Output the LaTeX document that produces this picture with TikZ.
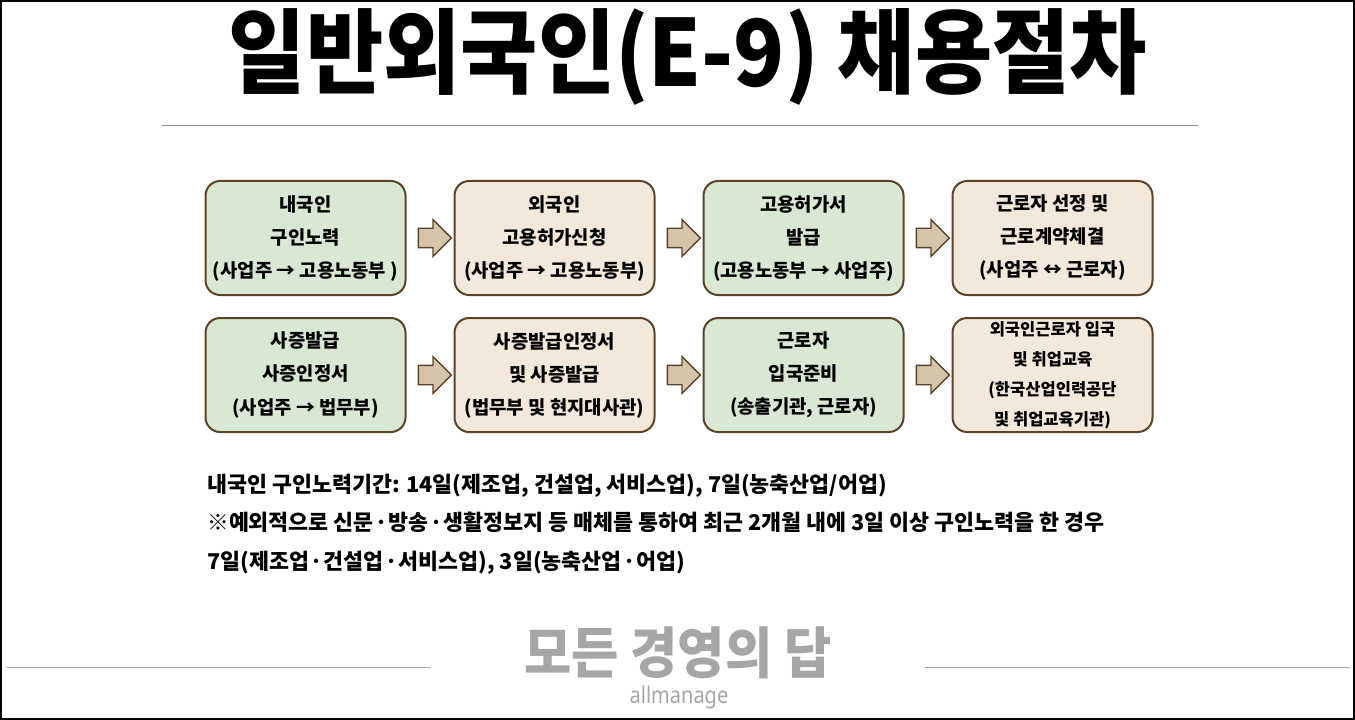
\documentclass[tikz,border=0pt]{standalone}
\usepackage{fontspec}
\setmainfont{Noto Sans CJK KR}
\newfontfamily\latinfont{Noto Sans}
\usepackage{tikz}
\usetikzlibrary{positioning,shapes.arrows}
\definecolor{boxgreen}{HTML}{D9E8D2}
\definecolor{boxbeige}{HTML}{F4E8DB}
\definecolor{boxbrown}{HTML}{5C4328}
\definecolor{arrowtan}{HTML}{D6C5AB}
\definecolor{rulegray}{HTML}{8C8C8C}
\definecolor{footgray}{HTML}{A6A6A6}
\newcommand{\sepdot}{\kern-0.12emㆍ\kern-0.12em}

\begin{document}
\begin{tikzpicture}[x=0.75pt,y=-0.75pt,
	stepcell/.style={draw=boxbrown,line width=1.5pt,rounded corners=11pt,minimum width=150pt,minimum height=85.5pt,align=center,inner sep=0pt,font=\bfseries\fontsize{14.1}{24.75}\selectfont},
	greencell/.style={stepcell,fill=boxgreen},
	beigecell/.style={stepcell,fill=boxbeige},
	blockarrow/.style={single arrow,draw=boxbrown,fill=arrowtan,line width=1pt,minimum height=24.75pt,single arrow head extend=6.5pt,inner sep=6.75pt}]
	\useasboundingbox (0,0) rectangle (1355,720);
	\draw[line width=1.5pt] (1,1) rectangle (1354,719);
	\node[font=\bfseries\fontsize{63}{70}\selectfont,yscale=1.1,transform shape] (title) at (688,57) {일반외국인(E-9) 채용절차};
	\draw[rulegray] (162,125) -- (1198,125);
	\node[greencell] (m-1-1) at (305.5,238) {내국인\\구인노력\\(사업주 → 고용노동부 )};
	\node[beigecell,right=35.25pt of m-1-1] (m-1-2) {외국인\\고용허가신청\\(사업주 → 고용노동부)};
	\node[greencell,right=35.25pt of m-1-2] (m-1-3) {고용허가서\\발급\\(고용노동부 → 사업주)};
	\node[beigecell,right=35.25pt of m-1-3] (m-1-4) {근로자 선정 및\\근로계약체결\\(사업주 ↔ 근로자)};
	\node[greencell,below=15.75pt of m-1-1] (m-2-1) {사증발급\\사증인정서\\(사업주 → 법무부)};
	\node[beigecell,right=35.25pt of m-2-1] (m-2-2) {사증발급인정서\\및 사증발급\\(법무부 및 현지대사관)};
	\node[greencell,right=35.25pt of m-2-2] (m-2-3) {근로자\\입국준비\\(송출기관, 근로자)};
	\node[beigecell,right=35.25pt of m-2-3,font=\bfseries\fontsize{12.4}{22.5}\selectfont] (m-2-4) {외국인근로자 입국\\및 취업교육\\(한국산업인력공단\\및 취업교육기관)};
	\path
	(m-1-1) -- node[blockarrow] {} (m-1-2)
	(m-1-2) -- node[blockarrow] {} (m-1-3)
	(m-1-3) -- node[blockarrow] {} (m-1-4)
	(m-2-1) -- node[blockarrow] {} (m-2-2)
	(m-2-2) -- node[blockarrow] {} (m-2-3)
	(m-2-3) -- node[blockarrow] {} (m-2-4);
	\node[anchor=west,align=left,inner sep=0pt,font=\bfseries\fontsize{16.3}{28.9}\selectfont] (note) at (207,524) {내국인 구인노력기간: 14일(제조업, 건설업, 서비스업), 7일(농축산업/어업)\\※예외적으로 신문\sepdot 방송\sepdot 생활정보지 등 매체를 통하여 최근 2개월 내에 3일 이상 구인노력을 한 경우\\7일(제조업\sepdot 건설업\sepdot 서비스업), 3일(농축산업\sepdot 어업)};
	\node[text=footgray,font=\bfseries\fontsize{38.5}{40}\selectfont,yscale=1.08,transform shape] (brand) at (678,653) {모든 경영의 답};
	\node[text=footgray,font=\latinfont\fontsize{15}{18}\selectfont,yscale=1.15,transform shape] (site) at (679,698) {allmanage};
	\draw[footgray] (7,667) -- (431,667) (925,667) -- (1350,667);
\end{tikzpicture}
\end{document}
